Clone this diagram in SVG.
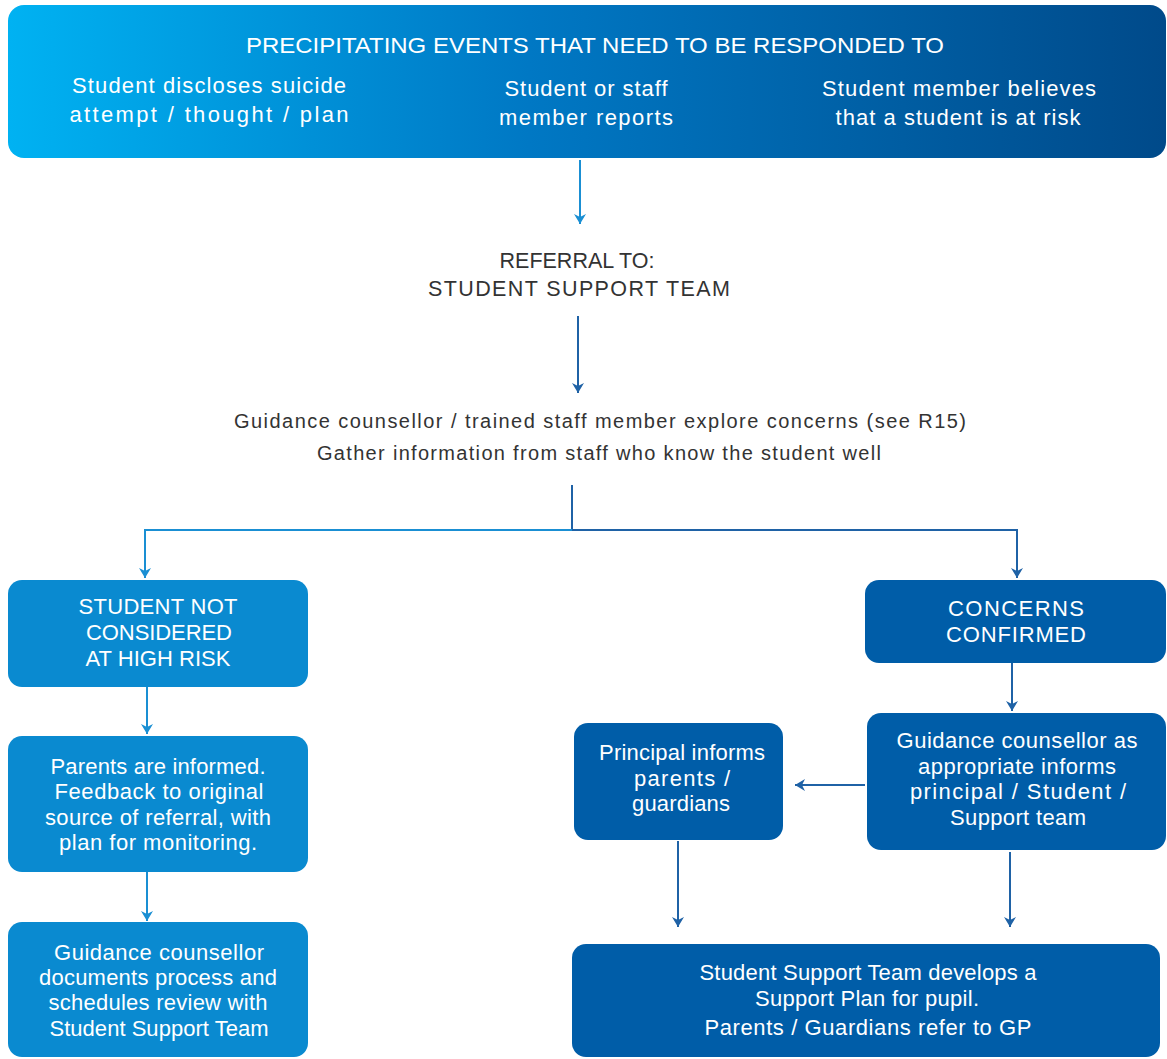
<svg xmlns="http://www.w3.org/2000/svg" width="1167" height="1059" viewBox="0 0 1167 1059">
<defs>
<linearGradient id="topGrad" x1="0" y1="0" x2="1" y2="0">
<stop offset="0" stop-color="#00b2f2"/>
<stop offset="0.45" stop-color="#0078c4"/>
<stop offset="1" stop-color="#004a8a"/>
</linearGradient>
<marker id="arrL" viewBox="0 0 10 12" refX="10" refY="6" markerWidth="10" markerHeight="12" markerUnits="userSpaceOnUse" orient="auto">
<path d="M0,0 L10,6 L0,12 L3,6 Z" fill="#1a8fd3"/>
</marker>
<marker id="arrD" viewBox="0 0 10 12" refX="10" refY="6" markerWidth="10" markerHeight="12" markerUnits="userSpaceOnUse" orient="auto">
<path d="M0,0 L10,6 L0,12 L3,6 Z" fill="#1f62a6"/>
</marker>
<style>
text{font-family:"Liberation Sans",Arial,sans-serif;text-anchor:middle;}
.w{fill:#ffffff;font-size:22px;}
.t{fill:#ffffff;font-size:22px;}
.hd{fill:#ffffff;font-size:22px;}
.dk{fill:#333333;font-size:21.5px;}
.sm{fill:#333333;font-size:20px;}
.lb{fill:#0a8ad0;}
.db{fill:#005da8;}
.cl{fill:none;stroke:#1a8fd3;stroke-width:2;}
.cd{fill:none;stroke:#1f62a6;stroke-width:2;}
</style>
</defs>

<g id="connectors">
<line class="cl" x1="580" y1="160" x2="580" y2="224" marker-end="url(#arrL)"/>
<line class="cd" x1="578" y1="316" x2="578" y2="393" marker-end="url(#arrD)"/>
<line class="cd" x1="572" y1="485" x2="572" y2="530"/>
<polyline class="cl" points="572,530 145,530 145,578" marker-end="url(#arrL)"/>
<polyline class="cd" points="572,530 1017,530 1017,578" marker-end="url(#arrD)"/>
<line class="cl" x1="147" y1="687" x2="147" y2="734" marker-end="url(#arrL)"/>
<line class="cl" x1="147" y1="872" x2="147" y2="921" marker-end="url(#arrL)"/>
<line class="cd" x1="1012" y1="663" x2="1012" y2="711" marker-end="url(#arrD)"/>
<line class="cd" x1="865" y1="785" x2="795" y2="785" marker-end="url(#arrD)"/>
<line class="cd" x1="678" y1="841" x2="678" y2="927" marker-end="url(#arrD)"/>
<line class="cd" x1="1010" y1="852" x2="1010" y2="927" marker-end="url(#arrD)"/>
</g>

<g id="events">
<rect x="8" y="5" width="1158" height="153" rx="16" fill="url(#topGrad)"/>
<text class="hd" x="595" y="53" textLength="698" lengthAdjust="spacingAndGlyphs">PRECIPITATING EVENTS THAT NEED TO BE RESPONDED TO</text>
<text class="t" x="209" y="93" textLength="274" lengthAdjust="spacing">Student discloses suicide</text>
<text class="t" x="209" y="122" textLength="279" lengthAdjust="spacing">attempt / thought / plan</text>
<text class="t" x="586" y="96" textLength="163" lengthAdjust="spacing">Student or staff</text>
<text class="t" x="586" y="125" textLength="174" lengthAdjust="spacing">member reports</text>
<text class="t" x="959" y="96" textLength="274" lengthAdjust="spacing">Student member believes</text>
<text class="t" x="958" y="125" textLength="245" lengthAdjust="spacing">that a student is at risk</text>
</g>

<g id="referral">
<text class="dk" x="577" y="268" textLength="155" lengthAdjust="spacing">REFERRAL TO:</text>
<text class="dk" x="579" y="296" textLength="302" lengthAdjust="spacing">STUDENT SUPPORT TEAM</text>
</g>

<g id="explore">
<text class="sm" x="600" y="428" textLength="732" lengthAdjust="spacing">Guidance counsellor / trained staff member explore concerns (see R15)</text>
<text class="sm" x="599" y="460" textLength="564" lengthAdjust="spacing">Gather information from staff who know the student well</text>
</g>

<g id="not-high-risk">
<rect class="lb" x="8" y="580" width="300" height="107" rx="14"/>
<text class="w" x="158" y="614" textLength="159" lengthAdjust="spacing">STUDENT NOT</text>
<text class="w" x="159" y="640" textLength="146" lengthAdjust="spacing">CONSIDERED</text>
<text class="w" x="158" y="666" textLength="145" lengthAdjust="spacing">AT HIGH RISK</text>
</g>

<g id="parents-informed">
<rect class="lb" x="8" y="736" width="300" height="136" rx="14"/>
<text class="w" x="158" y="774" textLength="215" lengthAdjust="spacing">Parents are informed.</text>
<text class="w" x="159" y="799" textLength="209" lengthAdjust="spacing">Feedback to original</text>
<text class="w" x="158" y="825" textLength="226" lengthAdjust="spacing">source of referral, with</text>
<text class="w" x="158" y="850" textLength="198" lengthAdjust="spacing">plan for monitoring.</text>
</g>

<g id="documents">
<rect class="lb" x="8" y="922" width="300" height="135" rx="14"/>
<text class="w" x="159" y="960" textLength="210" lengthAdjust="spacing">Guidance counsellor</text>
<text class="w" x="158" y="985" textLength="238" lengthAdjust="spacing">documents process and</text>
<text class="w" x="158" y="1010" textLength="219" lengthAdjust="spacing">schedules review with</text>
<text class="w" x="159" y="1036" textLength="219" lengthAdjust="spacing">Student Support Team</text>
</g>

<g id="concerns-confirmed">
<rect class="db" x="865" y="580" width="301" height="83" rx="14"/>
<text class="w" x="1016" y="616" textLength="136" lengthAdjust="spacing">CONCERNS</text>
<text class="w" x="1016" y="642" textLength="140" lengthAdjust="spacing">CONFIRMED</text>
</g>

<g id="guidance-informs">
<rect class="db" x="867" y="713" width="299" height="137" rx="14"/>
<text class="w" x="1017" y="748" textLength="241" lengthAdjust="spacing">Guidance counsellor as</text>
<text class="w" x="1017" y="774" textLength="198" lengthAdjust="spacing">appropriate informs</text>
<text class="w" x="1018" y="799" textLength="216" lengthAdjust="spacing">principal / Student /</text>
<text class="w" x="1018" y="825" textLength="136" lengthAdjust="spacing">Support team</text>
</g>

<g id="principal-informs">
<rect class="db" x="574" y="723" width="209" height="117" rx="14"/>
<text class="w" x="682" y="760" textLength="166" lengthAdjust="spacing">Principal informs</text>
<text class="w" x="682" y="786" textLength="96" lengthAdjust="spacing">parents /</text>
<text class="w" x="681" y="811" textLength="98" lengthAdjust="spacing">guardians</text>
</g>

<g id="support-plan">
<rect class="db" x="572" y="944" width="588" height="113" rx="14"/>
<text class="w" x="868" y="980" textLength="337" lengthAdjust="spacing">Student Support Team develops a</text>
<text class="w" x="867" y="1006" textLength="224" lengthAdjust="spacing">Support Plan for pupil.</text>
<text class="w" x="868" y="1035" textLength="327" lengthAdjust="spacing">Parents / Guardians refer to GP</text>
</g>
</svg>
